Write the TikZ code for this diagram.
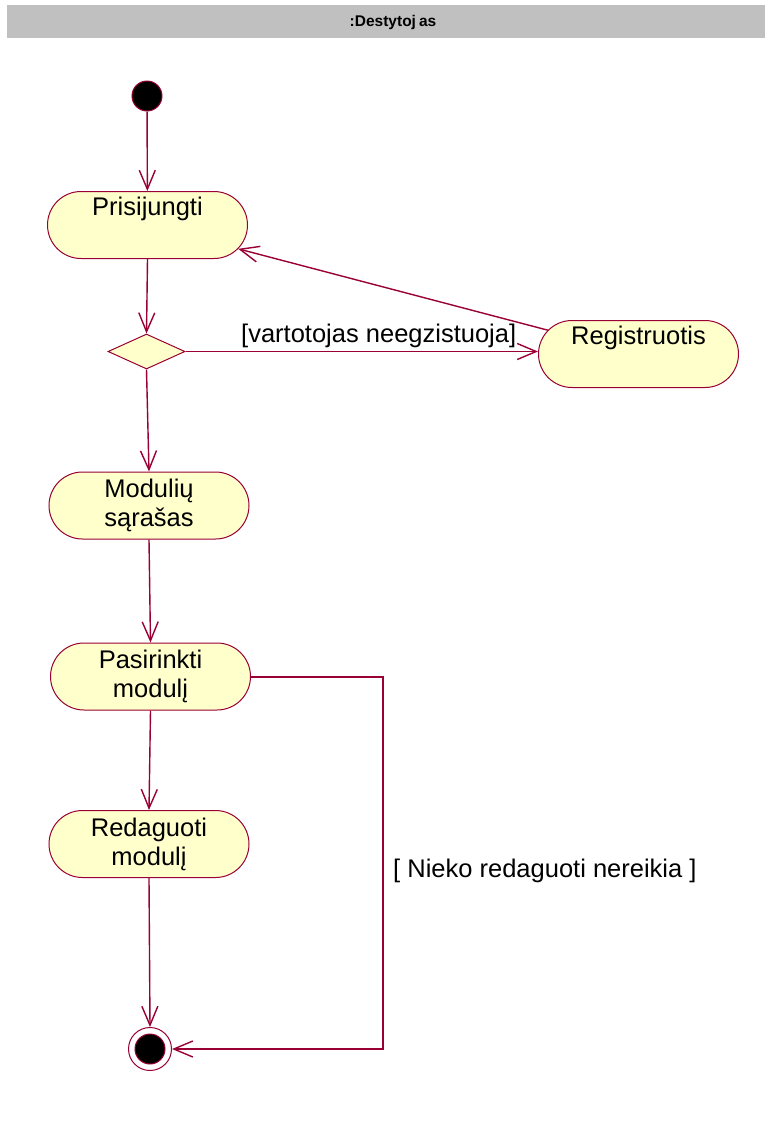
\documentclass[tikz,border=0pt]{standalone}
\usepackage{fontspec}
\setmainfont{Liberation Sans}
\usetikzlibrary{arrows.meta,shapes.geometric,shapes.misc}
\definecolor{umlline}{RGB}{153,0,51}
\definecolor{umlfill}{RGB}{255,255,204}
\definecolor{lanegray}{RGB}{192,192,192}
\begin{document}
\begin{tikzpicture}[x=1pt,y=-1pt,
  activity/.style={rounded rectangle, draw=umlline, fill=umlfill, line width=1pt,
    minimum width=200pt, minimum height=67pt, inner xsep=0pt, inner ysep=0pt,
    align=center, font=\fontsize{25.5}{29}\selectfont},
  flow/.style={draw=umlline, line width=1.4pt,
    -{Straight Barb[length=19pt,width=16pt]}},
  guard/.style={font=\fontsize{25.5}{29}\selectfont, inner sep=0pt, anchor=base west},
]
\useasboundingbox (0,0) rectangle (765,1136);

% swimlane header
\node[fill=lanegray, minimum width=758pt, minimum height=33pt, inner sep=0pt,
      anchor=north west] (lane) at (7,5) {};
\node[font=\bfseries\fontsize{15.5}{18}\selectfont, inner sep=0pt] (lanetitle) at (393,22)
      {:Destytoj\hspace{3pt}as};

% initial state
\node[circle, fill=black, draw=umlline, line width=1pt, minimum size=30pt, inner sep=0pt]
      (start) at (147,96) {};

% activities
\node[activity] (pri) at (147.5,225) {Prisijungti\\\strut};
\node[diamond, draw=umlline, fill=umlfill, line width=1pt, minimum width=77pt,
      minimum height=35pt, inner sep=0pt] (dec) at (146.5,351.5) {};
\node[activity] (reg) at (638.5,354) {Registruotis\\\strut};
\node[activity] (mod) at (149,505.5) {Modulių\\sąrašas};
\node[activity] (pas) at (150.5,676.5) {Pasirinkti\\modulį};
\node[activity] (red) at (149,844) {Redaguoti\\modulį};

% final state
\node[circle, fill=white, draw=umlline, line width=1pt, minimum size=43pt, inner sep=0pt]
      (fin) at (150,1049) {};
\node[circle, fill=black, draw=umlline, line width=1pt, minimum size=30pt, inner sep=0pt]
      (finin) at (150,1049) {};

% transitions
\draw[flow] (start) -- (pri);
\draw[flow] (pri.south) -- (dec.north);
\draw[flow] (dec.east) -- (dec.east -| reg.west);
\draw[flow] (reg) -- (pri);
\draw[flow] (dec.south) -- (mod.north);
\draw[flow] (mod.south) -- (pas.north);
\draw[flow] (pas.south) -- (red.north);
\draw[flow] (red.south) -- (fin.north);
\coordinate (bend) at (383,677);
\draw[flow] (pas.east |- bend) -- (bend) |- (fin.east);

% guards
\node[guard] (g1) at (241,342) {[vartotojas neegzistuoja]};
\node[guard] (g2) at (393,877) {[ Nieko redaguoti nereikia ]};
\end{tikzpicture}
\end{document}
